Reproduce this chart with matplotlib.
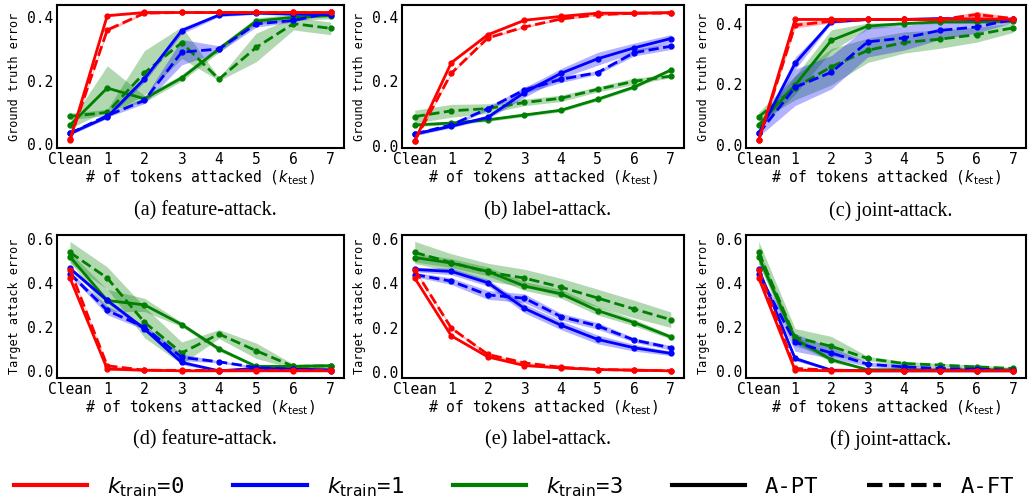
import numpy as np
import matplotlib
matplotlib.use("Agg")
import matplotlib.pyplot as plt
from matplotlib.lines import Line2D

plt.rcParams['font.family'] = ['DejaVu Sans Mono']
plt.rcParams['mathtext.fontset'] = 'dejavusans'

x_labels = ["Clean", "1", "2", "3", "4", "5", "6", "7"]
k_train = [0, 1, 3]
colors = ["red", "blue", "green"]

# rows are k_train = 0, 1, 3 ; PT = A-PT (solid), FT = A-FT (dashed)
feat_gt_pt = [[0.013, 0.405, 0.415, 0.415, 0.415, 0.415, 0.415, 0.415],
              [0.034, 0.086, 0.206, 0.358, 0.407, 0.413, 0.410, 0.408],
              [0.060, 0.177, 0.143, 0.209, 0.300, 0.388, 0.400, 0.405]]
feat_gt_pt_sd = [[0.005, 0.003, 0.003, 0.002, 0.002, 0.002, 0.002, 0.002],
                 [0.005, 0.005, 0.010, 0.010, 0.005, 0.004, 0.004, 0.004],
                 [0.010, 0.070, 0.010, 0.010, 0.010, 0.010, 0.010, 0.010]]
feat_gt_ft = [[0.015, 0.360, 0.413, 0.415, 0.415, 0.415, 0.415, 0.415],
              [0.034, 0.090, 0.138, 0.290, 0.300, 0.379, 0.390, 0.415],
              [0.088, 0.100, 0.225, 0.320, 0.205, 0.305, 0.380, 0.365]]
feat_gt_ft_sd = [[0.005, 0.005, 0.003, 0.002, 0.002, 0.002, 0.002, 0.002],
                 [0.005, 0.005, 0.010, 0.040, 0.010, 0.010, 0.005, 0.003],
                 [0.010, 0.010, 0.070, 0.050, 0.005, 0.045, 0.020, 0.020]]

label_gt_pt = [[0.015, 0.258, 0.345, 0.390, 0.402, 0.412, 0.412, 0.414],
               [0.036, 0.060, 0.088, 0.165, 0.225, 0.270, 0.304, 0.333],
               [0.064, 0.070, 0.080, 0.095, 0.110, 0.144, 0.182, 0.235]]
label_gt_pt_sd = [[0.003, 0.003, 0.003, 0.003, 0.003, 0.003, 0.003, 0.003],
                  [0.005, 0.005, 0.005, 0.015, 0.015, 0.020, 0.015, 0.012],
                  [0.005, 0.005, 0.005, 0.005, 0.005, 0.005, 0.005, 0.005]]
label_gt_ft = [[0.015, 0.225, 0.335, 0.369, 0.394, 0.407, 0.412, 0.412],
               [0.036, 0.064, 0.115, 0.173, 0.206, 0.227, 0.289, 0.309],
               [0.090, 0.108, 0.115, 0.134, 0.147, 0.175, 0.200, 0.216]]
label_gt_ft_sd = [[0.003, 0.003, 0.003, 0.003, 0.003, 0.003, 0.003, 0.003],
                  [0.005, 0.005, 0.005, 0.010, 0.010, 0.005, 0.010, 0.010],
                  [0.020, 0.020, 0.015, 0.010, 0.010, 0.008, 0.010, 0.005]]

joint_gt_pt = [[0.016, 0.414, 0.414, 0.414, 0.414, 0.414, 0.416, 0.414],
               [0.038, 0.269, 0.406, 0.414, 0.414, 0.417, 0.414, 0.414],
               [0.066, 0.197, 0.345, 0.392, 0.400, 0.406, 0.406, 0.408]]
joint_gt_pt_sd = [[0.005, 0.003, 0.003, 0.003, 0.003, 0.003, 0.003, 0.003],
                  [0.005, 0.020, 0.005, 0.003, 0.003, 0.003, 0.003, 0.003],
                  [0.010, 0.030, 0.035, 0.010, 0.005, 0.005, 0.005, 0.005]]
joint_gt_ft = [[0.016, 0.395, 0.408, 0.414, 0.414, 0.414, 0.430, 0.417],
               [0.038, 0.190, 0.240, 0.340, 0.353, 0.378, 0.389, 0.414],
               [0.093, 0.189, 0.258, 0.312, 0.338, 0.349, 0.364, 0.386]]
joint_gt_ft_sd = [[0.005, 0.010, 0.005, 0.003, 0.003, 0.003, 0.010, 0.005],
                  [0.010, 0.060, 0.055, 0.050, 0.040, 0.030, 0.020, 0.010],
                  [0.015, 0.040, 0.060, 0.040, 0.035, 0.030, 0.025, 0.015]]

feat_ta_pt = [[0.424, 0.011, 0.006, 0.003, 0.003, 0.003, 0.003, 0.003],
              [0.467, 0.322, 0.193, 0.041, 0.003, 0.014, 0.010, 0.008],
              [0.520, 0.322, 0.302, 0.213, 0.102, 0.023, 0.023, 0.026]]
feat_ta_pt_sd = [[0.005, 0.005, 0.005, 0.003, 0.003, 0.003, 0.003, 0.003],
                 [0.010, 0.010, 0.010, 0.010, 0.003, 0.005, 0.003, 0.003],
                 [0.020, 0.050, 0.030, 0.010, 0.010, 0.005, 0.005, 0.005]]
feat_ta_ft = [[0.462, 0.026, 0.006, 0.005, 0.005, 0.005, 0.005, 0.005],
              [0.444, 0.277, 0.200, 0.064, 0.044, 0.018, 0.010, 0.003],
              [0.540, 0.424, 0.223, 0.084, 0.170, 0.094, 0.023, 0.026]]
feat_ta_ft_sd = [[0.005, 0.005, 0.005, 0.003, 0.003, 0.003, 0.003, 0.003],
                 [0.010, 0.020, 0.010, 0.015, 0.005, 0.005, 0.003, 0.003],
                 [0.050, 0.050, 0.070, 0.050, 0.020, 0.035, 0.010, 0.010]]

label_ta_pt = [[0.424, 0.163, 0.068, 0.029, 0.018, 0.011, 0.008, 0.005],
               [0.463, 0.454, 0.403, 0.287, 0.211, 0.147, 0.109, 0.084],
               [0.517, 0.492, 0.454, 0.388, 0.353, 0.277, 0.223, 0.158]]
label_ta_pt_sd = [[0.005, 0.005, 0.005, 0.004, 0.003, 0.003, 0.003, 0.003],
                  [0.010, 0.015, 0.015, 0.020, 0.020, 0.020, 0.015, 0.010],
                  [0.020, 0.020, 0.020, 0.020, 0.020, 0.020, 0.015, 0.010]]
label_ta_ft = [[0.462, 0.198, 0.079, 0.041, 0.021, 0.011, 0.008, 0.005],
               [0.440, 0.410, 0.348, 0.333, 0.250, 0.208, 0.144, 0.109],
               [0.540, 0.494, 0.451, 0.424, 0.383, 0.334, 0.284, 0.236]]
label_ta_ft_sd = [[0.005, 0.005, 0.005, 0.004, 0.003, 0.003, 0.003, 0.003],
                  [0.010, 0.015, 0.020, 0.020, 0.015, 0.015, 0.010, 0.010],
                  [0.050, 0.040, 0.040, 0.040, 0.040, 0.040, 0.040, 0.035]]

joint_ta_pt = [[0.424, 0.006, 0.003, 0.003, 0.003, 0.003, 0.003, 0.003],
               [0.463, 0.059, 0.006, 0.003, 0.003, 0.003, 0.003, 0.003],
               [0.520, 0.147, 0.053, 0.008, 0.008, 0.007, 0.008, 0.008]]
joint_ta_pt_sd = [[0.005, 0.003, 0.003, 0.003, 0.003, 0.003, 0.003, 0.003],
                  [0.010, 0.010, 0.003, 0.003, 0.003, 0.003, 0.003, 0.003],
                  [0.030, 0.020, 0.010, 0.003, 0.003, 0.003, 0.003, 0.003]]
joint_ta_ft = [[0.462, 0.014, 0.006, 0.004, 0.004, 0.004, 0.004, 0.004],
               [0.440, 0.132, 0.084, 0.033, 0.021, 0.014, 0.011, 0.005],
               [0.540, 0.155, 0.114, 0.059, 0.036, 0.029, 0.021, 0.014]]
joint_ta_ft_sd = [[0.005, 0.003, 0.003, 0.003, 0.003, 0.003, 0.003, 0.003],
                  [0.010, 0.040, 0.025, 0.010, 0.010, 0.005, 0.005, 0.003],
                  [0.050, 0.040, 0.045, 0.010, 0.010, 0.008, 0.008, 0.005]]

panels = [
    (feat_gt_pt, feat_gt_pt_sd, feat_gt_ft, feat_gt_ft_sd, "Ground truth error", "(a) feature-attack."),
    (label_gt_pt, label_gt_pt_sd, label_gt_ft, label_gt_ft_sd, "Ground truth error", "(b) label-attack."),
    (joint_gt_pt, joint_gt_pt_sd, joint_gt_ft, joint_gt_ft_sd, "Ground truth error", "(c) joint-attack."),
    (feat_ta_pt, feat_ta_pt_sd, feat_ta_ft, feat_ta_ft_sd, "Target attack error", "(d) feature-attack."),
    (label_ta_pt, label_ta_pt_sd, label_ta_ft, label_ta_ft_sd, "Target attack error", "(e) label-attack."),
    (joint_ta_pt, joint_ta_pt_sd, joint_ta_ft, joint_ta_ft_sd, "Target attack error", "(f) joint-attack."),
]

fig = plt.figure(figsize=(10.28, 5.04), dpi=100)
lefts = [0.0554, 0.391, 0.7257]
widths = [0.279, 0.274, 0.272]
bottoms = [0.706, 0.25]
h = 0.284

x = np.arange(len(x_labels))
for i, (pt, pt_sd, ft, ft_sd, ylab, cap) in enumerate(panels):
    r, c = divmod(i, 3)
    ax = fig.add_axes([lefts[c], bottoms[r], widths[c], h])
    for j in [2, 1, 0]:
        for m, sd, ls in [(pt[j], pt_sd[j], "-"), (ft[j], ft_sd[j], "--")]:
            m = np.array(m)
            sd = np.array(sd)
            ax.fill_between(x, m - sd, m + sd, color=colors[j], alpha=0.3, linewidth=0)
            ax.plot(x, m, ls, color=colors[j], lw=2, marker="o", markersize=3.5)
    ax.set_xticks(x)
    ax.set_xticklabels(x_labels)
    ax.set_yticks([0.0, 0.2, 0.4, 0.6] if r == 1 else [0.0, 0.2, 0.4])
    ax.yaxis.set_major_formatter(matplotlib.ticker.FormatStrFormatter("%.1f"))
    ax.tick_params(length=0, labelsize=10.5, pad=3)
    for s in ax.spines.values():
        s.set_linewidth(1.5)
    ax.set_ylabel(ylab, fontsize=8.5)
    ax.set_xlabel(r"# of tokens attacked ($k_{\mathrm{test}}$)", fontsize=10.5, labelpad=1)
    cx = lefts[c] + widths[c] / 2 + 0.005
    cy = 1 - (211 if r == 0 else 440) / 504
    fig.text(cx, cy, cap, ha="center", va="center", fontsize=14.5, family="Liberation Serif")

handles = [Line2D([], [], color=colors[j], lw=3) for j in range(3)]
handles += [Line2D([], [], color="black", lw=3, ls="-"), Line2D([], [], color="black", lw=3, ls="--")]
labels = [r"$k_{\mathrm{train}}$=%d" % k for k in k_train] + ["A-PT", "A-FT"]
fig.legend(handles, labels, loc="center", bbox_to_anchor=(0.5, 1 - 487 / 504), ncol=5,
           frameon=False, fontsize=16, handlelength=3.3, columnspacing=2.2, handletextpad=0.9)

fig.savefig("out.png", dpi=100)
